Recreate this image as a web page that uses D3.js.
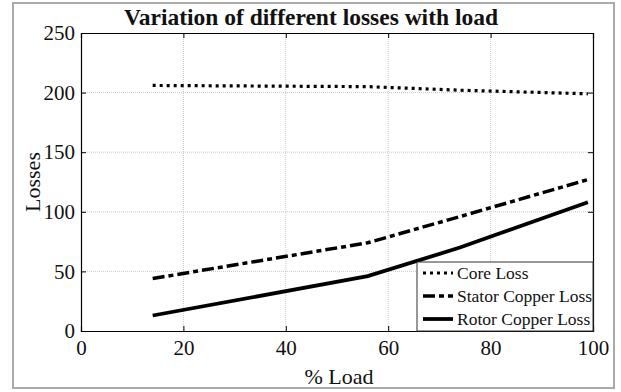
<!DOCTYPE html>
<html><head><meta charset="utf-8">
<script src="https://cdn.jsdelivr.net/npm/d3@7/dist/d3.min.js"></script>
<style>body{margin:0;background:#fff}svg{display:block}svg text{font-family:"Liberation Serif","Times New Roman",serif !important;fill:#111}</style>
</head><body><svg id="c" width="621" height="392"></svg>
<script>
const loadPct = [14, 56, 74, 99];
const coreLoss = [206, 205, 202, 199];
const statorCopperLoss = [44, 74, 96, 127];
const rotorCopperLoss = [13, 46, 70, 108];
const xTicks = [0, 20, 40, 60, 80, 100];
const yTicks = [0, 50, 100, 150, 200, 250];
const seriesNames = ["Core Loss", "Stator Copper Loss", "Rotor Copper Loss"];

const svg = d3.select("#c");
svg.append("rect").attr("x",13).attr("y",3).attr("width",601).attr("height",385)
  .attr("fill","#fff").attr("stroke","#aaa").attr("stroke-width",2);

const L=81,R=593,T=33,B=331;
const x = d3.scaleLinear().domain([0,100]).range([L,R]);
const y = d3.scaleLinear().domain([0,250]).range([B,T]);

// grid
const g = svg.append("g");
g.selectAll(".gx").data(xTicks.slice(1,-1)).join("line")
  .attr("x1",d=>x(d)).attr("x2",d=>x(d)).attr("y1",T).attr("y2",B)
  .attr("stroke","#bbb").attr("stroke-width",0.8).attr("stroke-dasharray","1,1");
g.selectAll(".gy").data(yTicks.slice(1,-1)).join("line")
  .attr("x1",L).attr("x2",R).attr("y1",d=>y(d)).attr("y2",d=>y(d))
  .attr("stroke","#bbb").attr("stroke-width",0.8).attr("stroke-dasharray","1,1");

// axes
const ax = d3.axisBottom(x).tickValues(xTicks).tickSize(-5).tickPadding(9);
const ay = d3.axisLeft(y).tickValues(yTicks).tickSize(-5).tickPadding(6);
const ax2 = d3.axisTop(x).tickValues(xTicks).tickSize(-5).tickFormat("");
const ay2 = d3.axisRight(y).tickValues(yTicks).tickSize(-5).tickFormat("");
function style(s){s.attr("font-family",null);
  s.select(".domain").attr("stroke","#000").attr("stroke-width",1.2);
  s.selectAll(".tick line").attr("stroke","#000");
  s.selectAll("text").attr("font-size",21).attr("fill","#111");}
svg.append("g").attr("transform",`translate(0,${B})`).call(ax).call(style);
svg.append("g").attr("transform",`translate(${L},0)`).call(ay).call(style);
svg.append("g").attr("transform",`translate(0,${T})`).call(ax2).call(style);
svg.append("g").attr("transform",`translate(${R},0)`).call(ay2).call(style);

// lines
const series = [
  {name:seriesNames[0], v:coreLoss, dash:"3,4", w:3.2},
  {name:seriesNames[1], v:statorCopperLoss, dash:"12,4,5,4", w:3.5},
  {name:seriesNames[2], v:rotorCopperLoss, dash:null, w:3.8}
];
const line = d3.line().x((d,i)=>x(loadPct[i])).y(d=>y(d));
series.forEach(s=>{
  svg.append("path").attr("d",line(s.v)).attr("fill","none").attr("stroke","#000")
    .attr("stroke-width",s.w).attr("stroke-dasharray",s.dash);
});

// legend
const lg = svg.append("g");
lg.append("rect").attr("x",417).attr("y",262).attr("width",R-417).attr("height",B-262)
  .attr("fill","#fff").attr("stroke","#333").attr("stroke-width",1);
series.forEach((s,i)=>{
  const yy = 273 + i*23;
  lg.append("line").attr("x1",423).attr("x2",453).attr("y1",yy).attr("y2",yy)
    .attr("stroke","#000").attr("stroke-width",s.w).attr("stroke-dasharray",s.dash);
  lg.append("text").attr("x",457).attr("y",yy).attr("dy","0.35em").attr("font-size",17.5).text(s.name);
});

// titles
svg.append("text").attr("x",(L+R)/2 - 26).attr("y",25).attr("text-anchor","middle")
  .attr("font-size",23.5).attr("font-weight","bold").text("Variation of different losses with load");
svg.append("text").attr("x",(L+R)/2+2).attr("y",384).attr("text-anchor","middle")
  .attr("font-size",22).text("% Load");
svg.append("text").attr("transform",`translate(40,${(T+B)/2}) rotate(-90)`).attr("text-anchor","middle")
  .attr("font-size",22).text("Losses");
</script></body></html>
